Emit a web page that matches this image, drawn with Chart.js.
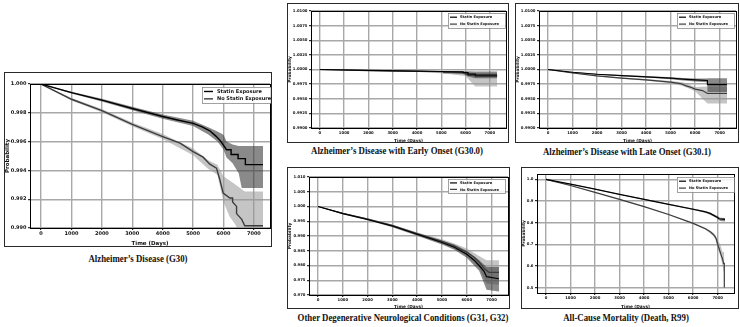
<!DOCTYPE html>
<html><head><meta charset="utf-8">
<script src="https://cdn.jsdelivr.net/npm/chart.js@4.4.1/dist/chart.umd.min.js"></script>
<style>
html,body{margin:0;padding:0;background:#fff;width:740px;height:327px;overflow:hidden;position:relative}
canvas{position:absolute}
.ttl{position:absolute;font-family:"Liberation Serif","Times New Roman",serif;font-weight:bold;font-size:10px;white-space:nowrap;transform:translate(-50%,-50%) scaleX(0.88);color:#111;line-height:1}
</style></head><body>
<canvas id="c1" width="268" height="175" style="left:4px;top:72px"></canvas>
<canvas id="c2" width="222" height="140" style="left:287px;top:3px"></canvas>
<canvas id="c3" width="224" height="140" style="left:515px;top:3px"></canvas>
<canvas id="c4" width="223" height="142" style="left:287px;top:167px"></canvas>
<canvas id="c5" width="218" height="142" style="left:521px;top:167px"></canvas>
<div class="ttl" id="t1" style="left:138px;top:259px"></div>
<div class="ttl" id="t2" style="left:397px;top:151px"></div>
<div class="ttl" id="t3" style="left:627px;top:152px"></div>
<div class="ttl" id="t4" style="left:403px;top:318px"></div>
<div class="ttl" id="t5" style="left:626px;top:318px"></div>
<script>
// ---------- labels ----------
const legendLabels = ["Statin Exposure", "No Statin Exposure"];
const panelTitles = [
  "Alzheimer’s Disease (G30)",
  "Alzheimer’s Disease with Early Onset (G30.0)",
  "Alzheimer’s Disease with Late Onset (G30.1)",
  "Other Degenerative Neurological Conditions (G31, G32)",
  "All-Cause Mortality (Death, R99)"
];
const xAxisTitle = "Time (Days)";
const yAxisTitle = "Probability";
const xTickValues = [0, 1000, 2000, 3000, 4000, 5000, 6000, 7000];

// ---------- Panel 1: Alzheimer's Disease (G30) ----------
const g30YTicks = [0.990, 0.992, 0.994, 0.996, 0.998, 1.000];
const g30Statin = [[0,1.0],[1000,0.99940],[2000,0.99888],[3000,0.99830],[4000,0.99774],[4450,0.99752],[5000,0.99727],[5300,0.99702],[5550,0.99675],[5750,0.99638],[5900,0.99605],[6050,0.99560],[6100,0.99543],[6250,0.99543],[6250,0.99510],[6480,0.99510],[6480,0.99482],[6720,0.99482],[6720,0.99440],[7300,0.99440]];
const g30NoStatin = [[0,1.0],[1000,0.99894],[2000,0.99815],[3000,0.99720],[4000,0.99635],[4570,0.99589],[5000,0.99531],[5330,0.99492],[5550,0.99443],[5770,0.99416],[5880,0.99335],[5990,0.99242],[6210,0.99208],[6300,0.99208],[6300,0.99180],[6430,0.99150],[6430,0.99100],[6600,0.99060],[6700,0.99016],[7300,0.99016]];
// [day, lower, upper]
const g30StatinBand = [[0,1.0,1.0],[1000,0.99934,0.99946],[2000,0.99879,0.99897],[3000,0.99818,0.99842],[4000,0.99759,0.99789],[5000,0.99709,0.99745],[5500,0.99650,0.99700],[5800,0.99600,0.99670],[6000,0.99545,0.99648],[6100,0.99490,0.99600],[6300,0.99450,0.99580],[6500,0.99380,0.99570],[6600,0.99278,0.99570],[7300,0.99278,0.99570]];
const g30NoStatinBand = [[0,1.0,1.0],[1000,0.99886,0.99902],[2000,0.99804,0.99826],[3000,0.99707,0.99733],[4000,0.99618,0.99652],[5000,0.99505,0.99552],[5500,0.99410,0.99470],[5800,0.99370,0.99440],[6000,0.99180,0.99360],[6200,0.99080,0.99330],[6400,0.99020,0.99300],[6700,0.98850,0.99254],[7300,0.98850,0.99254]];

// ---------- Panel 2: Early Onset (G30.0) ----------
const g300YTicks = [0.9900, 0.9925, 0.9950, 0.9975, 1.0000, 1.0025, 1.0050, 1.0075, 1.0100];
const g300Statin = [[0,1.0],[2000,0.99985],[4000,0.99972],[5000,0.99966],[5900,0.99960],[5900,0.99945],[6100,0.99945],[6100,0.99920],[6400,0.99920],[6400,0.99905],[7300,0.99905]];
const g300NoStatin = [[0,1.0],[2000,0.99982],[4000,0.99968],[5100,0.99962],[5100,0.99948],[6000,0.99945],[6000,0.99925],[6100,0.99925],[6100,0.99900],[6400,0.99900],[6400,0.99880],[7300,0.99880]];
const g300StatinBand = [[0,1.0,1.0],[2000,0.9998,0.9999],[4000,0.99964,0.9998],[5000,0.99955,0.99976],[5900,0.99925,0.99972],[6100,0.99880,0.99968],[6400,0.99850,0.99965],[7300,0.99850,0.99965]];
const g300NoStatinBand = [[0,1.0,1.0],[2000,0.99976,0.99988],[4000,0.99960,0.99976],[5100,0.99930,0.99972],[6000,0.99890,0.99962],[6100,0.99840,0.99950],[6400,0.99710,0.99940],[7300,0.99710,0.99940]];

// ---------- Panel 3: Late Onset (G30.1) ----------
const g301YTicks = g300YTicks;
const g301Statin = [[0,1.0],[1000,0.99953],[2000,0.99919],[3000,0.99895],[4000,0.99875],[5000,0.99852],[5500,0.99835],[6000,0.99822],[6500,0.99812],[6500,0.99740],[7300,0.99740]];
const g301NoStatin = [[0,1.0],[1000,0.99940],[2000,0.99890],[3000,0.99852],[4000,0.99822],[5000,0.99785],[5400,0.99760],[5600,0.99725],[5800,0.99700],[6000,0.99665],[6300,0.99640],[6500,0.99590],[7300,0.99590]];
const g301StatinBand = [[0,1.0,1.0],[1000,0.99948,0.99958],[2000,0.99910,0.99928],[3000,0.99884,0.99906],[4000,0.99862,0.99888],[5000,0.99835,0.99868],[5500,0.99812,0.99855],[6000,0.99795,0.99848],[6500,0.99780,0.99845],[6500,0.99610,0.99850],[7300,0.99610,0.99850]];
const g301NoStatinBand = [[0,1.0,1.0],[1000,0.99934,0.99946],[2000,0.99881,0.99899],[3000,0.99840,0.99864],[4000,0.99808,0.99836],[5000,0.99767,0.99803],[5500,0.99720,0.99780],[6000,0.99630,0.99700],[6500,0.99420,0.99710],[7300,0.99420,0.99710]];

// ---------- Panel 4: Other Degenerative (G31, G32) ----------
const g31YTicks = [0.970, 0.975, 0.980, 0.985, 0.990, 0.995, 1.000, 1.005, 1.010];
const g31Statin = [[0,1.0],[1000,0.9976],[2000,0.9956],[3000,0.9934],[4000,0.9906],[5000,0.9878],[5500,0.9862],[6000,0.9838],[6300,0.9818],[6500,0.9800],[6700,0.9780],[6800,0.9762],[7300,0.9755]];
const g31NoStatin = [[0,1.0],[1000,0.9977],[2000,0.9957],[3000,0.9935],[4000,0.9907],[5000,0.9882],[5500,0.9866],[6000,0.9845],[6300,0.9828],[6500,0.9812],[6700,0.9790],[6900,0.9777],[7300,0.9777]];
const g31StatinBand = [[0,1.0,1.0],[1000,0.9974,0.9978],[2000,0.9953,0.9959],[3000,0.9930,0.9938],[4000,0.9901,0.9911],[5000,0.9871,0.9885],[5500,0.9853,0.9871],[6000,0.9826,0.9850],[6500,0.9782,0.9818],[6800,0.9718,0.9795],[7300,0.9712,0.9795]];
const g31NoStatinBand = [[0,1.0,1.0],[1000,0.9975,0.9979],[2000,0.9954,0.9960],[3000,0.9931,0.9939],[4000,0.9902,0.9912],[5000,0.9875,0.9889],[5500,0.9857,0.9875],[6000,0.9832,0.9858],[6500,0.9792,0.9832],[6800,0.9738,0.9818],[7300,0.9735,0.9818]];

// ---------- Panel 5: All-Cause Mortality ----------
const r99YTicks = [0.5, 0.6, 0.7, 0.8, 0.9, 1.0];
const r99Statin = [[0,1.0],[1000,0.9785],[2000,0.955],[3000,0.931],[4000,0.908],[5000,0.885],[6000,0.862],[6500,0.850],[6700,0.843],[6800,0.836],[6900,0.830],[7000,0.824],[7050,0.818],[7300,0.815]];
const r99NoStatin = [[0,1.0],[1000,0.972],[2000,0.940],[3000,0.908],[4000,0.874],[5000,0.838],[6000,0.797],[6500,0.772],[6700,0.758],[6800,0.748],[6900,0.735],[6950,0.722],[7000,0.700],[7050,0.683],[7100,0.665],[7150,0.648],[7200,0.632],[7240,0.612],[7270,0.612],[7270,0.500]];
const r99StatinBand = [[0,1.0,1.0],[1000,0.9775,0.9795],[2000,0.9535,0.9565],[3000,0.9292,0.9328],[4000,0.9058,0.9102],[5000,0.8825,0.8875],[6000,0.859,0.865],[6500,0.846,0.854],[6800,0.831,0.841],[7000,0.818,0.830],[7100,0.808,0.823],[7300,0.806,0.822]];
const r99NoStatinBand = [[0,1.0,1.0],[1000,0.9712,0.9728],[2000,0.939,0.941],[3000,0.9065,0.9095],[4000,0.8722,0.8758],[5000,0.836,0.840],[6000,0.794,0.800],[6500,0.767,0.777],[6800,0.741,0.755],[6900,0.725,0.745],[7000,0.680,0.720],[7100,0.650,0.700],[7200,0.600,0.665],[7270,0.560,0.665]];

// ---------- styling ----------
const statinColor = '#000000';
const noStatinColor = '#3c3c3c';
const statinBandColor = 'rgba(60,60,60,0.6)';
const noStatinBandColor = 'rgba(150,150,150,0.55)';
const gridColor = '#a8a8a8';
const FONT = '"DejaVu Sans", sans-serif';

const framePlugin = {
  id: 'frame',
  afterDraw(chart, args, opts) {
    const ctx = chart.ctx, a = chart.chartArea;
    ctx.save();
    ctx.strokeStyle = '#000'; ctx.lineWidth = 1;
    ctx.strokeRect(Math.round(a.left) + 0.5, Math.round(a.top) + 0.5, Math.round(a.right - a.left), Math.round(a.bottom - a.top));
    const L = opts.legend;
    if (L) {
      ctx.fillStyle = 'rgba(255,255,255,0.85)';
      ctx.fillRect(L.x, L.y, L.w, L.h);
      ctx.strokeStyle = '#8a8a8a'; ctx.lineWidth = 0.8;
      ctx.strokeRect(L.x + 0.5, L.y + 0.5, L.w, L.h);
      ctx.font = 'bold ' + L.font + 'px ' + FONT;
      ctx.textBaseline = 'middle';
      [statinColor, noStatinColor].forEach((c, i) => {
        const yy = L.y + L.h * (0.28 + 0.46 * i);
        ctx.strokeStyle = c; ctx.lineWidth = L.lw;
        ctx.beginPath(); ctx.moveTo(L.x + L.l0, yy); ctx.lineTo(L.x + L.l1, yy); ctx.stroke();
        ctx.fillStyle = '#111';
        ctx.fillText(legendLabels[i], L.x + L.tx, yy + 0.3);
      });
    }
    ctx.strokeStyle = '#2a2a2a'; ctx.lineWidth = 1;
    ctx.strokeRect(0.5, 0.5, chart.width - 1, chart.height - 1);
    ctx.restore();
  }
};

const xy = arr => arr.map(p => ({x: p[0], y: p[1]}));
const bandLo = arr => arr.map(p => ({x: p[0], y: p[1]}));
const bandHi = arr => arr.map(p => ({x: p[0], y: p[2]}));

function makePanel(id, P) {
  const line = (label, data, color, order) => ({label, data: xy(data), borderColor: color, borderWidth: P.lw, pointRadius: 0, fill: false, tension: 0, order});
  const band = (data, color, order) => [
    {data: bandHi(data), fill: '+1', backgroundColor: color, borderColor: 'rgba(0,0,0,0)', borderWidth: 0, pointRadius: 0, tension: 0, order},
    {data: bandLo(data), fill: false, borderColor: 'rgba(0,0,0,0)', borderWidth: 0, pointRadius: 0, tension: 0, order}
  ];
  const datasets = [
    line(legendLabels[0], P.statin, statinColor, 0),
    line(legendLabels[1], P.noStatin, noStatinColor, 1),
    ...band(P.statinBand, statinBandColor, 2),
    ...band(P.noStatinBand, noStatinBandColor, 3)
  ];
  const tickFont = {family: FONT, size: P.tf, weight: 'bold'};
  const axFont = {family: FONT, size: P.af, weight: 'bold'};
  const grid = {display: true, drawOnChartArea: true, drawTicks: true, tickLength: 2, color: gridColor, lineWidth: 1.4, tickColor: '#000', tickWidth: 1};
  new Chart(document.getElementById(id), {
    type: 'line',
    data: {datasets},
    options: {
      responsive: false, animation: false, events: [],
      layout: {padding: {left: 0, top: P.padTop, right: P.padRight, bottom: 0}},
      plugins: {legend: {display: false}, tooltip: {enabled: false}, frame: {legend: P.legend}},
      scales: {
        x: {
          type: 'linear', min: P.xMin, max: P.xMax,
          afterBuildTicks: s => { s.ticks = xTickValues.map(v => ({value: v})); },
          afterFit: s => { s.height = P.xH; },
          ticks: {font: tickFont, color: '#111', padding: 1, maxRotation: 0, autoSkip: false, callback: v => String(v)},
          grid: grid,
          border: {display: false},
          title: {display: true, text: xAxisTitle, font: axFont, color: '#111', padding: {top: 0, bottom: 0}}
        },
        y: {
          type: 'linear', min: P.yMin, max: P.yMax,
          afterBuildTicks: s => { s.ticks = P.yTicks.map(v => ({value: v})); },
          afterFit: s => { s.width = P.yW; },
          ticks: {font: tickFont, color: '#111', padding: 1.5, autoSkip: false, callback: v => Number(v).toFixed(P.dec)},
          grid: grid,
          border: {display: false},
          title: {display: true, text: yAxisTitle, font: axFont, color: '#111', padding: {top: 0, bottom: 1}}
        }
      }
    },
    plugins: [framePlugin]
  });
}

makePanel('c1', {statin: g30Statin, noStatin: g30NoStatin, statinBand: g30StatinBand, noStatinBand: g30NoStatinBand,
  yTicks: g30YTicks, yMin: 0.990, yMax: 1.000, dec: 3, xMin: -365, xMax: 7530,
  yW: 26, xH: 19, padTop: 12, padRight: 2, tf: 5, af: 5.5, lw: 1.4,
  legend: {x: 198, y: 15, w: 78, h: 16, font: 5, l0: 2, l1: 11, tx: 15, lw: 1.4}});
makePanel('c2', {statin: g300Statin, noStatin: g300NoStatin, statinBand: g300StatinBand, noStatinBand: g300NoStatinBand,
  yTicks: g300YTicks, yMin: 0.9900, yMax: 1.0100, dec: 4, xMin: -365, xMax: 7665,
  yW: 24, xH: 15, padTop: 8, padRight: 3, tf: 3.8, af: 4.3, lw: 1.2,
  legend: {x: 161, y: 10, w: 57, h: 15, font: 3.6, l0: 2, l1: 9, tx: 12, lw: 1.2}});
makePanel('c3', {statin: g301Statin, noStatin: g301NoStatin, statinBand: g301StatinBand, noStatinBand: g301NoStatinBand,
  yTicks: g301YTicks, yMin: 0.9900, yMax: 1.0100, dec: 4, xMin: -365, xMax: 7665,
  yW: 24, xH: 15, padTop: 8, padRight: 3, tf: 3.8, af: 4.3, lw: 1.2,
  legend: {x: 162, y: 10, w: 57, h: 15, font: 3.6, l0: 2, l1: 9, tx: 12, lw: 1.2}});
makePanel('c4', {statin: g31Statin, noStatin: g31NoStatin, statinBand: g31StatinBand, noStatinBand: g31NoStatinBand,
  yTicks: g31YTicks, yMin: 0.970, yMax: 1.010, dec: 3, xMin: -365, xMax: 7665,
  yW: 22, xH: 14, padTop: 10, padRight: 2, tf: 3.8, af: 4.3, lw: 1.2,
  legend: {x: 161, y: 12, w: 57, h: 14, font: 3.6, l0: 2, l1: 9, tx: 12, lw: 1.2}});
makePanel('c5', {statin: r99Statin, noStatin: r99NoStatin, statinBand: r99StatinBand, noStatinBand: r99NoStatinBand,
  yTicks: r99YTicks, yMin: 0.475, yMax: 1.025, dec: 1, xMin: -365, xMax: 7665,
  yW: 16, xH: 16, padTop: 7, padRight: 5, tf: 3.8, af: 4.3, lw: 1.2,
  legend: {x: 156, y: 10, w: 57, h: 15, font: 3.6, l0: 2, l1: 9, tx: 12, lw: 1.2}});

panelTitles.forEach((t, i) => { document.getElementById('t' + (i + 1)).textContent = t; });
</script>
</body></html>
